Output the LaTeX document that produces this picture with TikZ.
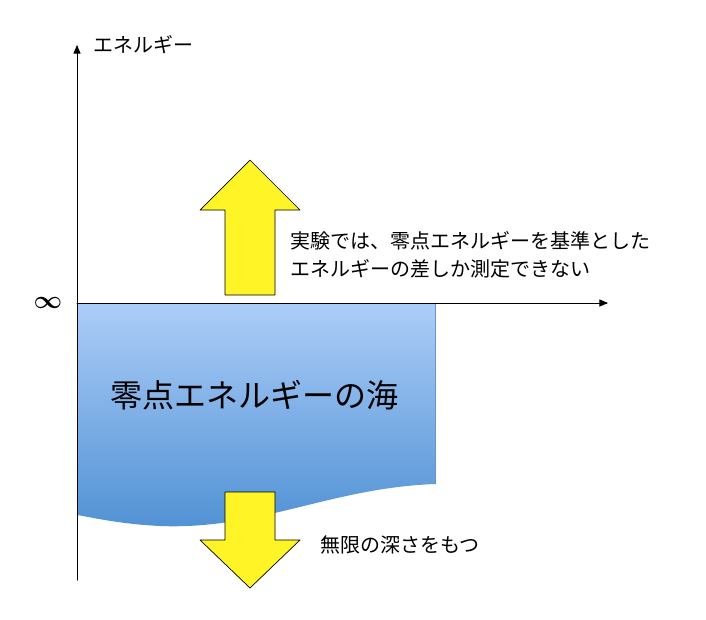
\documentclass[tikz,border=0pt]{standalone}
\usepackage{amsmath,bm}
\usepackage{fontspec}
\setmainfont{Noto Sans CJK JP}
\usetikzlibrary{arrows}

\begin{document}
\begin{tikzpicture}[line cap=round,line join=round,>=triangle 45,x=1pt,y=-1pt]
\tikzset{
  yarrow/.style={draw=black,fill=yellow!85!white,line width=0.7pt},
  lbl/.style={font=\fontsize{20}{24}\selectfont,anchor=west,inner sep=0pt}
}
\useasboundingbox (0,0) rectangle (706,619);

% sea
\path[top color={rgb,255:red,172;green,205;blue,248},bottom color={rgb,255:red,80;green,145;blue,212}]
  (77,303) -- (435,303) -- (435,484) .. controls (330,488) and (260,530) .. (160,526)
  .. controls (120,524) and (95,518) .. (77,515) -- cycle;
\draw[color={rgb,255:red,100;green,150;blue,200},line width=0.7pt] (435,303) -- (435,484);

% axes
\coordinate (o) at (77,303);
\coordinate (ytop) at (77,45);
\coordinate (ybot) at (77,580);
\coordinate (xend) at (608,303);
\draw[->,line width=1pt] (ybot) -- (ytop);
\draw[->,line width=1pt] (o) -- (xend);
\node[lbl] (ylab) at (93,45) {エネルギー};
\node[font=\fontsize{30}{30}\selectfont] (inf) at (48,303) {$\bm{\infty}$};

% arrows
\draw[yarrow] (225,295) -- (225,210) -- (200,210) -- (250,160) -- (300,210) -- (275,210) -- (275,295) -- cycle;
\draw[yarrow] (225,492) -- (225,540) -- (200,540) -- (250,588) -- (300,540) -- (275,540) -- (275,492) -- cycle;

% texts
\node[lbl] (exp1) at (290,241) {実験では、零点エネルギーを基準とした};
\node[lbl] (exp2) at (290,269) {エネルギーの差しか測定できない};
\node[font=\fontsize{32}{36}\selectfont] (sea) at (254,395) {零点エネルギーの海};
\node[lbl] (deep) at (320,545) {無限の深さをもつ};
\end{tikzpicture}
\end{document}
